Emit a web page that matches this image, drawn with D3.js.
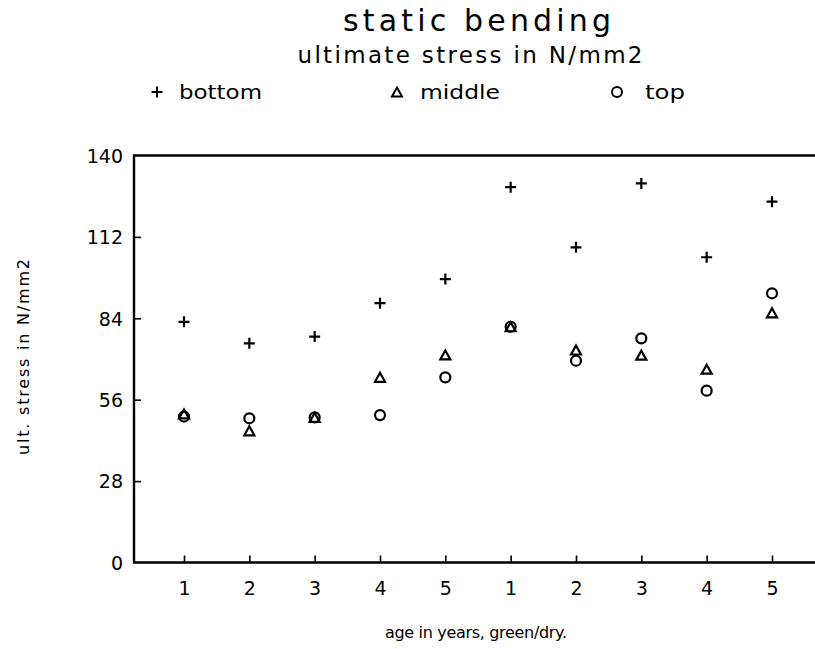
<!DOCTYPE html>
<html>
<head>
<meta charset="utf-8">
<script src="https://cdn.jsdelivr.net/npm/d3@7"></script>
<style>
  html, body { margin: 0; padding: 0; background: #fff; }
  svg { display: block; }
  text { font-family: "DejaVu Sans", "Liberation Sans", sans-serif; fill: #000; }
</style>
</head>
<body>
<svg id="chart" width="815" height="649"></svg>
<script>
// ---- data ----
const xLabels = ["1", "2", "3", "4", "5", "1", "2", "3", "4", "5"];
const bottom = [82.8, 75.4, 77.7, 89.2, 97.5, 129.1, 108.4, 130.4, 105.0, 124.1];
const middle = [51.1, 45.3, 49.9, 63.7, 71.4, 81.1, 73.1, 71.3, 66.5, 85.9];
const top_   = [50.2, 49.6, 49.9, 50.7, 63.7, 81.1, 69.4, 77.1, 59.1, 92.6];
const yTicks = [0, 28, 56, 84, 112, 140];
const seriesNames = ["bottom", "middle", "top"];

// ---- layout ----
const svg = d3.select("#chart");
const FONT = "DejaVu Sans, Liberation Sans, sans-serif";
const left = 134, right = 830, topY = 155.5, bottomY = 562.5;

const x = d3.scaleLinear().domain([0, xLabels.length - 1]).range([184, 772]);
const y = d3.scaleLinear().domain([0, 140]).range([bottomY, topY]);

// frame: left axis, top line, bottom axis
svg.append("path").attr("d", `M${right},${topY}H${left}V${bottomY}H${right}`)
  .attr("stroke", "#000").attr("stroke-width", 2.4).attr("fill", "none");

// y axis
const yAxis = d3.axisLeft(y).tickValues(yTicks).tickSize(-7).tickPadding(10).tickFormat(d3.format("d"));
const gy = svg.append("g").attr("transform", `translate(${left},0)`).call(yAxis);
gy.select(".domain").remove();
gy.selectAll(".tick line").attr("stroke", "#000").attr("stroke-width", 1.6)
  .filter(d => d === 0 || d === 140).remove();
gy.selectAll(".tick text").attr("font-size", 19).attr("font-family", FONT)
  .attr("dy", "0.36em").attr("x", -11);

// x axis
const xAxis = d3.axisBottom(x).tickValues(d3.range(xLabels.length)).tickSize(-7).tickPadding(19)
  .tickFormat(i => xLabels[i]);
const gx = svg.append("g").attr("transform", `translate(0,${bottomY})`).call(xAxis);
gx.select(".domain").remove();
gx.selectAll(".tick line").attr("stroke", "#000").attr("stroke-width", 1.6);
gx.selectAll(".tick text").attr("font-size", 19).attr("font-family", FONT);

// symbols
function plusPath(s) { return `M${-s},0H${s}M0,${-s}V${s}`; }
function triPath(s) { const h = s * 0.9; return `M0,${-h}L${s},${h}L${-s},${h}Z`; }
function circPath(r) { return `M${r},0A${r},${r} 0 1,1 ${-r},0A${r},${r} 0 1,1 ${r},0Z`; }
const shapes = { bottom: () => plusPath(5.5), middle: () => triPath(5), top: () => circPath(5) };

const dataSets = { bottom: bottom, middle: middle, top: top_ };
const marks = svg.append("g").attr("fill", "none").attr("stroke", "#000").attr("stroke-width", 2.2);
seriesNames.forEach(name => {
  marks.append("g").selectAll("path").data(dataSets[name]).join("path")
    .attr("transform", (d, i) => `translate(${x(i)},${y(d)})`)
    .attr("d", shapes[name]);
});

// titles
svg.append("text").attr("x", 477).attr("y", 31).attr("text-anchor", "middle")
  .attr("font-size", 30).attr("textLength", 268).attr("lengthAdjust", "spacing").text("static bending");
svg.append("text").attr("x", 470).attr("y", 63).attr("text-anchor", "middle")
  .attr("font-size", 23).attr("textLength", 345).attr("lengthAdjust", "spacing").text("ultimate stress in N/mm2");

// legend
const legend = [
  { name: "bottom", sx: 157, tx: 179, tw: 83 },
  { name: "middle", sx: 397, tx: 420, tw: 80 },
  { name: "top", sx: 617, tx: 645, tw: 40 }
];
const lg = svg.append("g");
legend.forEach(l => {
  lg.append("path").attr("transform", `translate(${l.sx},${92})`).attr("d", shapes[l.name]())
    .attr("fill", "none").attr("stroke", "#000").attr("stroke-width", 2);
  lg.append("text").attr("x", l.tx).attr("y", 99).attr("font-size", 19)
    .attr("textLength", l.tw).attr("lengthAdjust", "spacingAndGlyphs").text(l.name);
});

// axis titles
svg.append("text").attr("x", 476).attr("y", 638).attr("text-anchor", "middle")
  .attr("font-size", 16).attr("textLength", 182).attr("lengthAdjust", "spacing").text("age in years, green/dry.");
svg.append("text").attr("transform", "translate(29,357) rotate(-90)").attr("text-anchor", "middle")
  .attr("font-size", 16).attr("textLength", 196).attr("lengthAdjust", "spacing").text("ult. stress in N/mm2");
</script>
</body>
</html>
